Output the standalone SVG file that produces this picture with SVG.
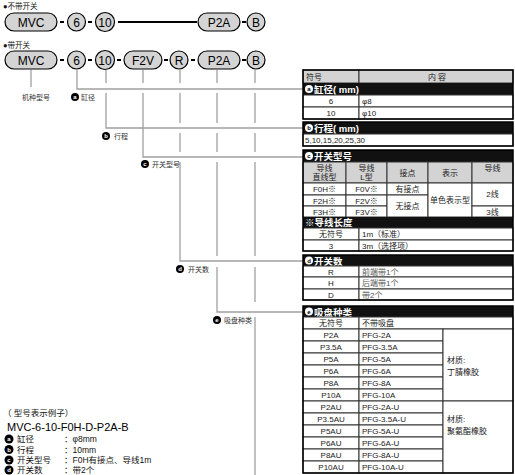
<svg xmlns="http://www.w3.org/2000/svg" width="515" height="475" viewBox="0 0 515 475">
<style>
text{font-family:"Liberation Sans","Noto Sans CJK SC",sans-serif;}
.pill{fill:#d4d4d4;stroke:#000;stroke-width:1.2}
.pt{font-size:12px;text-anchor:middle;fill:#000}
.dash{fill:#000}
.ln{stroke:#a0a0a0;stroke-width:1.3;fill:none}
.lbl{font-size:7px;fill:#333}
.ic{fill:#000}
.icw{fill:#fff}
.ict{font-size:6px;fill:#fff;text-anchor:middle;font-weight:bold}
.ictb{font-size:6px;fill:#000;text-anchor:middle;font-weight:bold}
.bar{fill:#111}
.bt{font-size:9.5px;fill:#fff;font-weight:bold}
.cell{fill:#fff;stroke:#333;stroke-width:1}
.hd{fill:#d3d3d3;stroke:#333;stroke-width:1}
.out{fill:none;stroke:#000;stroke-width:1.5}
.t{font-size:8px;fill:#222}
.tc{font-size:8px;fill:#222;text-anchor:middle}
.ex{font-size:8.5px;fill:#111}
</style>

<!-- titles -->
<text x="3" y="9" class="lbl" style="font-size:7.5px;fill:#111">●不带开关</text>
<text x="3" y="48" class="lbl" style="font-size:7.5px;fill:#111">●带开关</text>

<!-- row 1 -->
<g id="row1">
  <rect x="5" y="13" width="52" height="18" rx="9" class="pill"/>
  <text x="31" y="26.5" class="pt">MVC</text>
  <rect x="60" y="21" width="4" height="2" class="dash"/>
  <circle cx="76.5" cy="22" r="9" class="pill"/>
  <text x="76.5" y="26.5" class="pt">6</text>
  <rect x="88" y="21" width="4" height="2" class="dash"/>
  <circle cx="105" cy="22" r="9.5" class="pill"/>
  <text x="105" y="26.5" class="pt">10</text>
  <line x1="118" y1="22" x2="197" y2="22" stroke="#000" stroke-width="2"/>
  <rect x="198" y="13" width="42" height="18" rx="9" class="pill"/>
  <text x="219" y="26.5" class="pt">P2A</text>
  <rect x="242" y="21" width="4" height="2" class="dash"/>
  <circle cx="256" cy="22" r="9" class="pill"/>
  <text x="256" y="26.5" class="pt">B</text>
</g>

<!-- row 2 -->
<g id="row2">
  <rect x="5" y="51" width="52" height="18" rx="9" class="pill"/>
  <text x="31" y="64.5" class="pt">MVC</text>
  <rect x="60" y="59" width="4" height="2" class="dash"/>
  <circle cx="76.5" cy="60" r="9" class="pill"/>
  <text x="76.5" y="64.5" class="pt">6</text>
  <rect x="88" y="59" width="4" height="2" class="dash"/>
  <circle cx="105" cy="60" r="9.5" class="pill"/>
  <text x="105" y="64.5" class="pt">10</text>
  <rect x="117" y="59" width="4" height="2" class="dash"/>
  <rect x="124" y="51" width="38" height="18" rx="9" class="pill"/>
  <text x="143" y="64.5" class="pt">F2V</text>
  <rect x="164" y="59" width="4" height="2" class="dash"/>
  <circle cx="179" cy="60" r="9" class="pill"/>
  <text x="179" y="64.5" class="pt">R</text>
  <rect x="191" y="59" width="4" height="2" class="dash"/>
  <rect x="198" y="51" width="42" height="18" rx="9" class="pill"/>
  <text x="219" y="64.5" class="pt">P2A</text>
  <rect x="242" y="59" width="4" height="2" class="dash"/>
  <circle cx="256" cy="60" r="9" class="pill"/>
  <text x="256" y="64.5" class="pt">B</text>
</g>

<!-- connectors -->
<g id="connectors">
  <path class="ln" d="M31 70V87"/>
  <path class="ln" d="M77 70V89H303"/>
  <path class="ln" d="M106 70V83M106 93V128H303"/>
  <path class="ln" d="M143 70V83M143 93V157H303"/>
  <path class="ln" d="M180 70V83M180 93V123M180 133V152M180 162V261H303"/>
  <path class="ln" d="M217 70V83M217 93V123M217 133V152M217 162V256M217 267V312H303"/>
  <path class="ln" d="M255 70V83M255 93V123M255 133V152M255 162V256M255 267V302M255 317V475"/>
</g>

<!-- labels -->
<g id="labels">
  <text x="22" y="99.5" class="lbl">机种型号</text>
  <circle cx="75" cy="97" r="4" class="ic"/><text x="75" y="99" class="ict">a</text>
  <text x="81" y="99.5" class="lbl">缸径</text>
  <circle cx="106" cy="136" r="4" class="ic"/><text x="106" y="138" class="ict">b</text>
  <text x="114" y="138.5" class="lbl">行程</text>
  <circle cx="145" cy="164" r="4" class="ic"/><text x="145" y="166" class="ict">c</text>
  <text x="152" y="166.5" class="lbl">开关型号</text>
  <circle cx="180" cy="269" r="4" class="ic"/><text x="180" y="271" class="ict">d</text>
  <text x="188" y="271.5" class="lbl">开关数</text>
  <circle cx="217" cy="320" r="4" class="ic"/><text x="217" y="322" class="ict">e</text>
  <text x="224" y="322.5" class="lbl">吸盘种类</text>
</g>

<!-- table section a -->
<g id="sec-a">
  <rect x="303" y="70" width="56" height="13" class="hd"/>
  <rect x="359" y="70" width="154" height="13" class="hd"/>
  <text x="306" y="80" class="t">符号</text>
  <text x="437" y="80" class="tc">内 容</text>
  <rect x="303" y="83" width="210" height="12" class="bar"/>
  <circle cx="309" cy="89" r="4" class="icw"/><text x="309" y="91" class="ictb">a</text>
  <text x="314" y="93" class="bt">缸径( mm)</text>
  <rect x="303" y="95" width="56" height="12" class="cell"/>
  <rect x="359" y="95" width="154" height="12" class="cell"/>
  <rect x="303" y="107" width="56" height="12" class="cell"/>
  <rect x="359" y="107" width="154" height="12" class="cell"/>
  <text x="331" y="104" class="tc">6</text><text x="362" y="104" class="t">φ8</text>
  <text x="331" y="116" class="tc">10</text><text x="362" y="116" class="t">φ10</text>
  <rect x="303" y="70" width="210" height="49" class="out"/>
</g>

<!-- section b -->
<g id="sec-b">
  <rect x="303" y="122" width="210" height="12" class="bar"/>
  <circle cx="309" cy="128" r="4" class="icw"/><text x="309" y="130" class="ictb">b</text>
  <text x="314" y="132" class="bt">行程( mm)</text>
  <rect x="303" y="134" width="210" height="12" class="cell"/>
  <text x="305" y="143" class="t">5,10,15,20,25,30</text>
  <rect x="303" y="122" width="210" height="24" class="out"/>
</g>

<!-- section c -->
<g id="sec-c">
  <rect x="303" y="150" width="210" height="12" class="bar"/>
  <circle cx="309" cy="156" r="4" class="icw"/><text x="309" y="158" class="ictb">c</text>
  <text x="314" y="160" class="bt">开关型号</text>
  <rect x="303" y="162" width="43" height="21" class="hd"/>
  <rect x="346" y="162" width="41" height="21" class="hd"/>
  <rect x="387" y="162" width="41" height="21" class="hd"/>
  <rect x="428" y="162" width="44" height="21" class="hd"/>
  <rect x="472" y="162" width="41" height="21" class="hd"/>
  <text x="324.5" y="171" class="tc">导线</text><text x="324.5" y="180" class="tc">直线型</text>
  <text x="366.5" y="171" class="tc">导线</text><text x="366.5" y="180" class="tc">L型</text>
  <text x="407.5" y="176" class="tc">接点</text>
  <text x="450" y="176" class="tc">表示</text>
  <text x="492.5" y="171" class="tc">导线</text>
  <rect x="303" y="183" width="43" height="12" class="cell"/>
  <rect x="346" y="183" width="41" height="12" class="cell"/>
  <rect x="303" y="195" width="43" height="11" class="cell"/>
  <rect x="346" y="195" width="41" height="11" class="cell"/>
  <rect x="303" y="206" width="43" height="11" class="cell"/>
  <rect x="346" y="206" width="41" height="11" class="cell"/>
  <rect x="387" y="183" width="41" height="12" class="cell"/>
  <rect x="387" y="195" width="41" height="22" class="cell"/>
  <rect x="428" y="183" width="44" height="34" class="cell"/>
  <rect x="472" y="183" width="41" height="23" class="cell"/>
  <rect x="472" y="206" width="41" height="11" class="cell"/>
  <text x="324.5" y="192" class="tc">F0H※</text><text x="366.5" y="192" class="tc">F0V※</text>
  <text x="324.5" y="203.5" class="tc">F2H※</text><text x="366.5" y="203.5" class="tc">F2V※</text>
  <text x="324.5" y="214.5" class="tc">F3H※</text><text x="366.5" y="214.5" class="tc">F3V※</text>
  <text x="407.5" y="192" class="tc">有接点</text>
  <text x="407.5" y="209" class="tc">无接点</text>
  <text x="450" y="203" class="tc">单色表示型</text>
  <text x="492.5" y="197" class="tc">2线</text>
  <text x="492.5" y="214.5" class="tc">3线</text>
  <rect x="303" y="217" width="210" height="11" class="bar"/>
  <text x="305" y="226" class="bt">※导线长度</text>
  <rect x="303" y="228" width="56" height="12" class="cell"/>
  <rect x="359" y="228" width="154" height="12" class="cell"/>
  <rect x="303" y="240" width="56" height="11" class="cell"/>
  <rect x="359" y="240" width="154" height="11" class="cell"/>
  <text x="331" y="237" class="tc">无符号</text><text x="362" y="237" class="t">1m（标准）</text>
  <text x="331" y="248.5" class="tc">3</text><text x="362" y="248.5" class="t">3m（选择项）</text>
  <rect x="303" y="150" width="210" height="101" class="out"/>
</g>

<!-- section d -->
<g id="sec-d">
  <rect x="303" y="255" width="210" height="11" class="bar"/>
  <circle cx="309" cy="260.5" r="4" class="icw"/><text x="309" y="262.5" class="ictb">d</text>
  <text x="314" y="264.5" class="bt">开关数</text>
  <rect x="303" y="266" width="56" height="11" class="cell"/>
  <rect x="359" y="266" width="154" height="11" class="cell"/>
  <rect x="303" y="277" width="56" height="12" class="cell"/>
  <rect x="359" y="277" width="154" height="12" class="cell"/>
  <rect x="303" y="289" width="56" height="11" class="cell"/>
  <rect x="359" y="289" width="154" height="11" class="cell"/>
  <text x="331" y="274.5" class="tc">R</text><text x="362" y="274.5" class="t" style="fill:#555">前端带1个</text>
  <text x="331" y="286" class="tc">H</text><text x="362" y="286" class="t" style="fill:#555">后端带1个</text>
  <text x="331" y="297.5" class="tc">D</text><text x="362" y="297.5" class="t" style="fill:#555">带2个</text>
  <rect x="303" y="255" width="210" height="45" class="out"/>
</g>

<!-- section e -->
<g id="sec-e">
  <rect x="303" y="306" width="210" height="11" class="bar"/>
  <circle cx="309" cy="311.5" r="4" class="icw"/><text x="309" y="313.5" class="ictb">e</text>
  <text x="314" y="315.5" class="bt">吸盘种类</text>
  <rect x="303" y="317" width="56" height="12" class="cell"/>
  <rect x="359" y="317" width="154" height="12" class="cell"/>
  <text x="331" y="326" class="tc">无符号</text><text x="362" y="326" class="t">不带吸盘</text>
  <g id="e-rows">
    <rect x="303" y="329" width="56" height="12" class="cell"/><rect x="359" y="329" width="84" height="12" class="cell"/>
    <rect x="303" y="341" width="56" height="12" class="cell"/><rect x="359" y="341" width="84" height="12" class="cell"/>
    <rect x="303" y="353" width="56" height="12" class="cell"/><rect x="359" y="353" width="84" height="12" class="cell"/>
    <rect x="303" y="365" width="56" height="12" class="cell"/><rect x="359" y="365" width="84" height="12" class="cell"/>
    <rect x="303" y="377" width="56" height="12" class="cell"/><rect x="359" y="377" width="84" height="12" class="cell"/>
    <rect x="303" y="389" width="56" height="12" class="cell"/><rect x="359" y="389" width="84" height="12" class="cell"/>
    <rect x="303" y="401" width="56" height="12" class="cell"/><rect x="359" y="401" width="84" height="12" class="cell"/>
    <rect x="303" y="413" width="56" height="12" class="cell"/><rect x="359" y="413" width="84" height="12" class="cell"/>
    <rect x="303" y="425" width="56" height="12" class="cell"/><rect x="359" y="425" width="84" height="12" class="cell"/>
    <rect x="303" y="437" width="56" height="12" class="cell"/><rect x="359" y="437" width="84" height="12" class="cell"/>
    <rect x="303" y="449" width="56" height="12" class="cell"/><rect x="359" y="449" width="84" height="12" class="cell"/>
    <rect x="303" y="461" width="56" height="12" class="cell"/><rect x="359" y="461" width="84" height="12" class="cell"/>
    <rect x="443" y="329" width="70" height="72" class="cell"/>
    <rect x="443" y="401" width="70" height="72" class="cell"/>
  </g>
  <text x="331" y="338" class="tc">P2A</text><text x="362" y="338" class="t">PFG-2A</text>
  <text x="331" y="350" class="tc">P3.5A</text><text x="362" y="350" class="t">PFG-3.5A</text>
  <text x="331" y="362" class="tc">P5A</text><text x="362" y="362" class="t">PFG-5A</text>
  <text x="331" y="374" class="tc">P6A</text><text x="362" y="374" class="t">PFG-6A</text>
  <text x="331" y="386" class="tc">P8A</text><text x="362" y="386" class="t">PFG-8A</text>
  <text x="331" y="398" class="tc">P10A</text><text x="362" y="398" class="t">PFG-10A</text>
  <text x="331" y="410" class="tc">P2AU</text><text x="362" y="410" class="t">PFG-2A-U</text>
  <text x="331" y="422" class="tc">P3.5AU</text><text x="362" y="422" class="t">PFG-3.5A-U</text>
  <text x="331" y="434" class="tc">P5AU</text><text x="362" y="434" class="t">PFG-5A-U</text>
  <text x="331" y="446" class="tc">P6AU</text><text x="362" y="446" class="t">PFG-6A-U</text>
  <text x="331" y="458" class="tc">P8AU</text><text x="362" y="458" class="t">PFG-8A-U</text>
  <text x="331" y="470" class="tc">P10AU</text><text x="362" y="470" class="t">PFG-10A-U</text>
  <text x="447" y="363" class="t">材质:</text>
  <text x="447" y="375" class="t">丁腈橡胶</text>
  <text x="447" y="422" class="t">材质:</text>
  <text x="447" y="434" class="t">聚氨酯橡胶</text>
  <rect x="303" y="306" width="210" height="167" class="out"/>
</g>

<!-- example -->
<g id="example">
  <text x="3" y="416" class="ex">（ 型号表示例子）</text>
  <text x="7" y="430.5" style="font-size:11px;fill:#000">MVC-6-10-F0H-D-P2A-B</text>
  <circle cx="9" cy="439" r="4.5" class="ic"/><text x="9" y="441" class="ict">a</text>
  <text x="17" y="442" class="ex">缸径</text><text x="64" y="442" class="ex">：φ8mm</text>
  <circle cx="9" cy="449.5" r="4.5" class="ic"/><text x="9" y="451.5" class="ict">b</text>
  <text x="17" y="452.5" class="ex">行程</text><text x="64" y="452.5" class="ex">：10mm</text>
  <circle cx="9" cy="460" r="4.5" class="ic"/><text x="9" y="462" class="ict">c</text>
  <text x="17" y="463" class="ex">开关型号</text><text x="64" y="463" class="ex">：F0H有接点、导线1m</text>
  <circle cx="9" cy="470" r="4.5" class="ic"/><text x="9" y="472" class="ict">d</text>
  <text x="17" y="473" class="ex">开关数</text><text x="64" y="473" class="ex">：带2个</text>
</g>
</svg>
